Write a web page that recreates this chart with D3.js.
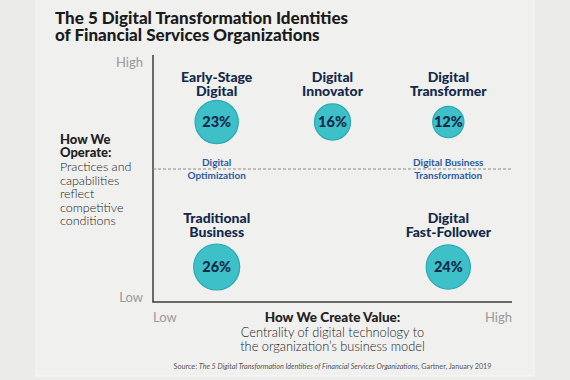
<!DOCTYPE html>
<html><head><meta charset="utf-8">
<script src="https://cdn.jsdelivr.net/npm/d3@7"></script>
<style>
html,body{margin:0;padding:0;background:#ebebea;}
svg{display:block;}
text{font-family:Lato,"Open Sans",sans-serif;}
</style></head>
<body>
<script>
// ---- data ----
const titleLines = ["The 5 Digital Transformation Identities", "of Financial Services Organizations"];
const identities = [["Early-Stage", "Digital"], ["Digital", "Innovator"], ["Digital", "Transformer"], ["Traditional", "Business"], ["Digital", "Fast-Follower"]];
const shares = [23, 16, 12, 26, 24];
const valueLevel = ["Low", "Mid", "High", "Low", "High"];
const operateLevel = ["High", "High", "High", "Low", "Low"];
const valueLevels = ["Low", "Mid", "High"];
const operateLevels = ["High", "Low"];
const dividerLabels = [["Digital", "Optimization"], ["Digital Business", "Transformation"]];
const dividerLevel = ["Low", "High"];
const axisEnds = ["Low", "High"];
const yTitle = ["How We", "Operate:"];
const yDesc = ["Practices and", "capabilities", "reflect", "competitive", "conditions"];
const xTitle = "How We Create Value:";
const xDesc = ["Centrality of digital technology to", "the organization\u2019s business model"];
const sourceLead = "Source: ";
const sourceTitle = "The 5 Digital Transformation Identities of Financial Services Organizations";
const sourceTail = ", Gartner, January 2019";

// ---- layout ----
const W = 570, H = 380;
const svg = d3.select("body").append("svg").attr("width", W).attr("height", H);
svg.append("rect").attr("x", 36).attr("y", -2).attr("width", 498).attr("height", 378)
  .attr("fill", "#f0f0ef").attr("stroke", "#f8f8f7").attr("stroke-width", 1);

const navy = "#13294b", blue = "#2d5b9f";
const plot = {l: 153, r: 512, t: 55, b: 302};
const xAxisScale = d3.scaleLinear().domain([0, 1]).range([plot.l, plot.r]);
const yAxisScale = d3.scaleLinear().domain([0, 1]).range([plot.b, plot.t]);
const xCol = d3.scalePoint().domain(valueLevels).range([plot.l, plot.r]).padding(0.55);
const yRow = d3.scalePoint().domain(operateLevels).range([122, 267]);
const rScale = d3.scaleSqrt().domain([0, d3.max(shares)]).range([0, 23]);

// title
svg.append("g").selectAll("text").data(titleLines).join("text")
  .attr("x", 55).attr("y", (d, i) => 24 + i * 17)
  .attr("font-size", 17).attr("font-weight", 900).attr("fill", "#1b1b1d")
  .text(d => d);

// axes
svg.append("line").attr("x1", xAxisScale(0)).attr("x2", xAxisScale(0))
  .attr("y1", yAxisScale(1)).attr("y2", yAxisScale(0)).attr("stroke", "#3c3c3e").attr("stroke-width", 1.5);
svg.append("line").attr("x1", xAxisScale(0) - 0.75).attr("x2", xAxisScale(1))
  .attr("y1", yAxisScale(0)).attr("y2", yAxisScale(0)).attr("stroke", "#3c3c3e").attr("stroke-width", 1.5);
const midY = (yRow("High") + yRow("Low")) / 2 - 25.5;
svg.append("line").attr("x1", xAxisScale(0)).attr("x2", xAxisScale(1))
  .attr("y1", midY).attr("y2", midY).attr("stroke", "#8c8c8c").attr("stroke-width", 1).attr("stroke-dasharray", "3,2");

// axis end labels
svg.append("g").selectAll("text").data(axisEnds).join("text")
  .attr("x", plot.l - 10).attr("y", (d, i) => i === 0 ? yAxisScale(0) : yAxisScale(1) + 12)
  .attr("text-anchor", "end").attr("font-size", 13).attr("fill", "#9a9a9a").text(d => d);
svg.append("g").selectAll("text").data(axisEnds).join("text")
  .attr("x", (d, i) => xAxisScale(i)).attr("y", 322)
  .attr("text-anchor", (d, i) => i === 0 ? "start" : "end").attr("font-size", 13).attr("fill", "#9a9a9a").text(d => d);

// y title
svg.append("g").selectAll("text").data(yTitle).join("text")
  .attr("x", 60).attr("y", (d, i) => 144 + i * 13)
  .attr("font-size", 13).attr("font-weight", 900).attr("fill", "#222").text(d => d);
svg.append("g").selectAll("text").data(yDesc).join("text")
  .attr("x", 60).attr("y", (d, i) => 171 + i * 13.5)
  .attr("font-size", 12.5).attr("font-weight", 300).attr("fill", "#222").text(d => d);

// x title
const cx = (plot.l + plot.r) / 2;
svg.append("text").attr("x", cx).attr("y", 322).attr("text-anchor", "middle")
  .attr("font-size", 13.5).attr("font-weight", 900).attr("fill", "#222").text(xTitle);
svg.append("g").selectAll("text").data(xDesc).join("text")
  .attr("x", cx).attr("y", (d, i) => 337 + i * 13.5).attr("text-anchor", "middle")
  .attr("font-size", 12.8).attr("font-weight", 300).attr("fill", "#222").text(d => d);

// source
const src = svg.append("text").attr("x", cx).attr("y", 369).attr("text-anchor", "middle")
  .attr("font-size", 7.2).attr("fill", "#555");
src.append("tspan").text(sourceLead);
src.append("tspan").attr("font-style", "italic").text(sourceTitle);
src.append("tspan").text(sourceTail);

// divider labels
dividerLabels.forEach((lines, k) => {
  svg.append("g").selectAll("text").data(lines).join("text")
    .attr("x", xCol(dividerLevel[k])).attr("y", (d, i) => midY - 3 + i * 13)
    .attr("text-anchor", "middle").attr("font-size", 10).attr("font-weight", 700)
    .attr("fill", blue).text(d => d);
});

// bubbles
const data = shares.map((v, i) => ({v, name: identities[i], col: valueLevel[i], row: operateLevel[i]}));
const g = svg.append("g").selectAll("g").data(data).join("g")
  .attr("transform", d => `translate(${xCol(d.col)},${yRow(d.row)})`);
g.append("circle").attr("r", d => rScale(d.v)).attr("fill", "#3ec0c9").attr("stroke", "#2aaab4").attr("stroke-width", 1.2);
g.append("text").attr("y", 5).attr("text-anchor", "middle").attr("font-size", 14.5)
  .attr("font-weight", 900).attr("fill", navy).text(d => d.v + "%");
g.each(function(d) {
  const off = d.row === "High" ? 26 : 30;
  d3.select(this).selectAll("text.lbl").data(d.name).join("text").attr("class", "lbl")
    .attr("y", (t, i) => -off - 14 + i * 14).attr("text-anchor", "middle")
    .attr("font-size", 14).attr("font-weight", 900).attr("fill", navy).text(t => t);
});
</script>
</body></html>
